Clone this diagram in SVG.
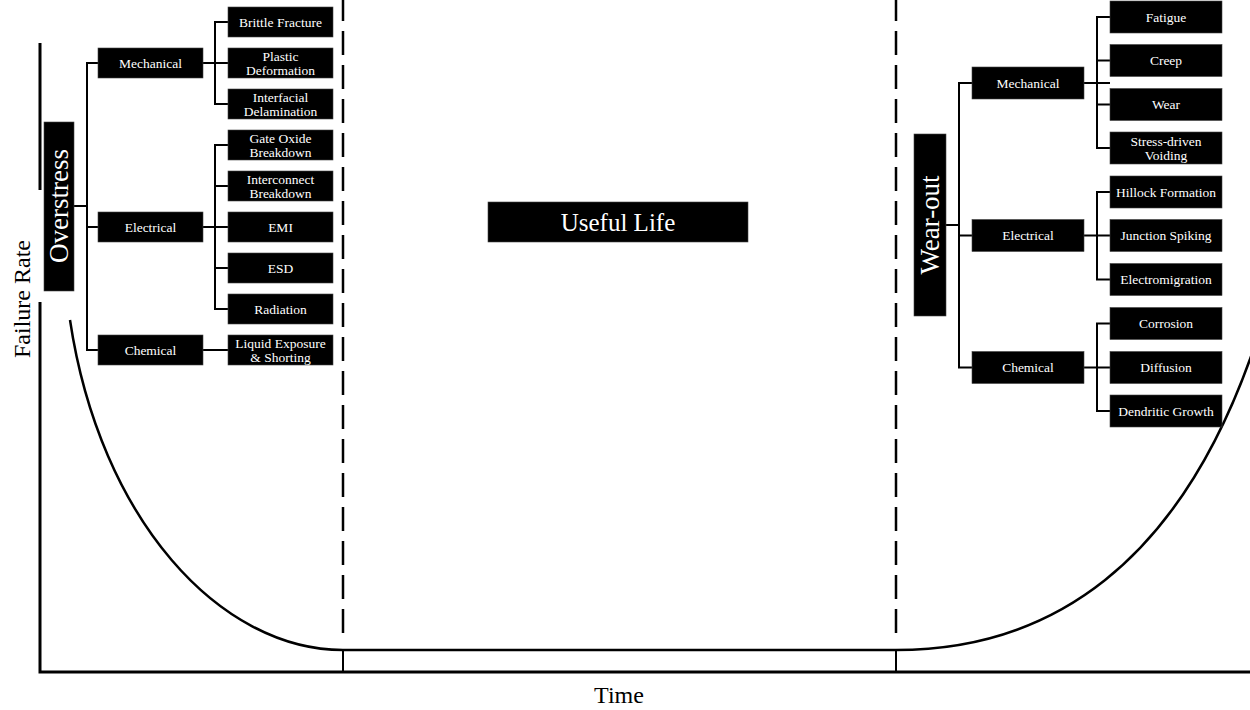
<svg xmlns="http://www.w3.org/2000/svg" width="1250" height="710" viewBox="0 0 1250 710">
<style>
.bx{fill:#000;stroke:#444;stroke-width:0.6}
.t{font-family:"Liberation Serif","Times New Roman",serif;font-size:13.5px;fill:#fff;text-anchor:middle}
.big{font-family:"Liberation Serif","Times New Roman",serif;fill:#fff;text-anchor:middle}
.ax{font-family:"Liberation Serif","Times New Roman",serif;font-size:24px;fill:#000;text-anchor:middle}
.ln{stroke:#000;stroke-width:2;fill:none}
.axis{stroke:#000;stroke-width:3;fill:none}
.crv{stroke:#000;stroke-width:2.5;fill:none}
.dash{stroke:#000;stroke-width:2.5;fill:none;stroke-dasharray:24 10}
</style>
<rect width="1250" height="710" fill="#fff"/>
<g id="chart">
<path class="axis" d="M40,43 V190 M40,302 V673 M38.5,672 H1250"/>
<path class="dash" d="M343,-3 V641 M896,-3 V641"/>
<path class="crv" d="M70,320 C100,520 220,650 343,650 H896 C1050,650 1180,565 1255,345"/>
<path class="ln" d="M343,650 V672 M896,650 V672"/>
<text class="ax" transform="translate(30,299) rotate(-90)">Failure Rate</text>
<text class="ax" x="619" y="703">Time</text>
</g>
<g id="connectors">
<path class="ln" d="M74,206 H87 M98,63 H87 V350 H98 M87,227 H98"/>
<path class="ln" d="M203,63 H228 M228,22 H215 V104 H228"/>
<path class="ln" d="M203,227 H228 M228,145 H215 V309 H228 M215,186 H228 M215,268 H228"/>
<path class="ln" d="M203,350 H228"/>
<path class="ln" d="M946,225 H959 M972,83 H959 V367.5 H972 M959,235.5 H972"/>
<path class="ln" d="M1084,83 H1110 M1110,17 H1097 V148 H1110 M1097,60.5 H1110 M1097,104.5 H1110"/>
<path class="ln" d="M1084,235.5 H1110 M1110,192 H1097 V279.5 H1110"/>
<path class="ln" d="M1084,367.5 H1110 M1110,323.5 H1097 V411 H1110"/>
</g>
<g id="overstress"><rect class="bx" x="44" y="122" width="30" height="169"/><text class="big" style="font-size:27px" transform="translate(68,206) rotate(-90)">Overstress</text></g>
<g id="useful-life"><rect class="bx" x="488" y="202" width="260" height="40"/><text class="big" style="font-size:25px" x="618" y="231">Useful Life</text></g>
<g id="wear-out"><rect class="bx" x="914" y="134" width="32" height="182"/><text class="big" style="font-size:27px" transform="translate(939,225) rotate(-90)">Wear-out</text></g>
<g id="os-mechanical"><rect class="bx" x="98" y="48" width="105" height="30"/><text class="t" x="150.5" y="67.5">Mechanical</text></g>
<g id="os-electrical"><rect class="bx" x="98" y="212" width="105" height="30"/><text class="t" x="150.5" y="231.5">Electrical</text></g>
<g id="os-chemical"><rect class="bx" x="98" y="335" width="105" height="30"/><text class="t" x="150.5" y="354.5">Chemical</text></g>
<g id="brittle"><rect class="bx" x="228" y="7" width="105" height="30"/><text class="t" x="280.5" y="26.5">Brittle Fracture</text></g>
<g id="plastic"><rect class="bx" x="228" y="48" width="105" height="30"/><text class="t" x="280.5" y="60.5">Plastic</text><text class="t" x="280.5" y="74.5">Deformation</text></g>
<g id="interfacial"><rect class="bx" x="228" y="89" width="105" height="30"/><text class="t" x="280.5" y="101.5">Interfacial</text><text class="t" x="280.5" y="115.5">Delamination</text></g>
<g id="gate-oxide"><rect class="bx" x="228" y="130" width="105" height="30"/><text class="t" x="280.5" y="142.5">Gate Oxide</text><text class="t" x="280.5" y="156.5">Breakdown</text></g>
<g id="interconnect"><rect class="bx" x="228" y="171" width="105" height="30"/><text class="t" x="280.5" y="183.5">Interconnect</text><text class="t" x="280.5" y="197.5">Breakdown</text></g>
<g id="emi"><rect class="bx" x="228" y="212" width="105" height="30"/><text class="t" x="280.5" y="231.5">EMI</text></g>
<g id="esd"><rect class="bx" x="228" y="253" width="105" height="30"/><text class="t" x="280.5" y="272.5">ESD</text></g>
<g id="radiation"><rect class="bx" x="228" y="294" width="105" height="30"/><text class="t" x="280.5" y="313.5">Radiation</text></g>
<g id="liquid"><rect class="bx" x="228" y="335" width="105" height="30"/><text class="t" x="280.5" y="347.5">Liquid Exposure</text><text class="t" x="280.5" y="361.5">&amp; Shorting</text></g>
<g id="wo-mechanical"><rect class="bx" x="972" y="67" width="112" height="32"/><text class="t" x="1028" y="87.5">Mechanical</text></g>
<g id="wo-electrical"><rect class="bx" x="972" y="219.5" width="112" height="32"/><text class="t" x="1028" y="240">Electrical</text></g>
<g id="wo-chemical"><rect class="bx" x="972" y="351.5" width="112" height="32"/><text class="t" x="1028" y="372">Chemical</text></g>
<g id="fatigue"><rect class="bx" x="1110" y="1" width="112" height="32"/><text class="t" x="1166" y="21.5">Fatigue</text></g>
<g id="creep"><rect class="bx" x="1110" y="44.5" width="112" height="32"/><text class="t" x="1166" y="65">Creep</text></g>
<g id="wear"><rect class="bx" x="1110" y="88.5" width="112" height="32"/><text class="t" x="1166" y="109">Wear</text></g>
<g id="stress-voiding"><rect class="bx" x="1110" y="132" width="112" height="32"/><text class="t" x="1166" y="145.5">Stress-driven</text><text class="t" x="1166" y="159.5">Voiding</text></g>
<g id="hillock"><rect class="bx" x="1110" y="176" width="112" height="32"/><text class="t" x="1166" y="196.5">Hillock Formation</text></g>
<g id="junction"><rect class="bx" x="1110" y="219.5" width="112" height="32"/><text class="t" x="1166" y="240">Junction Spiking</text></g>
<g id="electromigration"><rect class="bx" x="1110" y="263.5" width="112" height="32"/><text class="t" x="1166" y="284">Electromigration</text></g>
<g id="corrosion"><rect class="bx" x="1110" y="307.5" width="112" height="32"/><text class="t" x="1166" y="328">Corrosion</text></g>
<g id="diffusion"><rect class="bx" x="1110" y="351.5" width="112" height="32"/><text class="t" x="1166" y="372">Diffusion</text></g>
<g id="dendritic"><rect class="bx" x="1110" y="395" width="112" height="32"/><text class="t" x="1166" y="415.5">Dendritic Growth</text></g>
</svg>
